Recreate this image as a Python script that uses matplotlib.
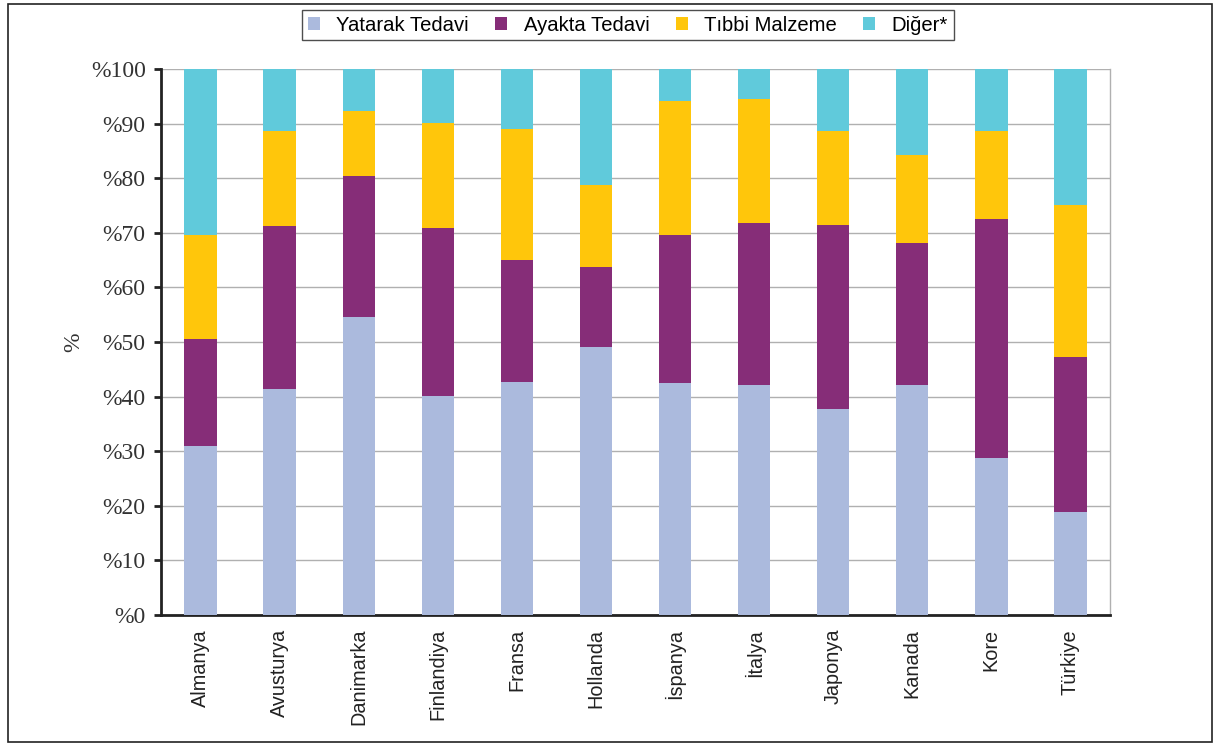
import numpy as np
import matplotlib
matplotlib.use("Agg")
import matplotlib.pyplot as plt
from matplotlib.patches import Rectangle

# Ulkeler ve harcama paylari (%)
ulkeler = ["Almanya", "Avusturya", "Danimarka", "Finlandiya", "Fransa", "Hollanda",
           "İspanya", "İtalya", "Japonya", "Kanada", "Kore", "Türkiye"]
yatarak = [31.0, 41.4, 54.6, 40.1, 42.7, 49.1, 42.5, 42.1, 37.7, 42.1, 28.8, 18.9]
ayakta = [19.5, 29.8, 25.8, 30.8, 22.3, 14.6, 27.1, 29.7, 33.7, 26.0, 43.7, 28.4]
tibbi = [19.1, 17.4, 11.9, 19.2, 24.0, 15.1, 24.5, 22.7, 17.2, 16.1, 16.1, 27.8]
diger = [100 - a - b - c for a, b, c in zip(yatarak, ayakta, tibbi)]

seri_adlari = ["Yatarak Tedavi", "Ayakta Tedavi", "Tıbbi Malzeme", "Diğer*"]
renkler = ["#abbadd", "#862d78", "#ffc60b", "#60cadb"]
yuzde_etiket = ["%" + str(v) for v in range(0, 101, 10)]

fig = plt.figure(figsize=(12.18, 7.44), dpi=100)
ax = fig.add_axes([0.1322, 0.1734, 0.7791, 0.7339])

x = np.arange(len(ulkeler))
alt = np.zeros(len(ulkeler))
for seri, ad, renk in zip([yatarak, ayakta, tibbi, diger], seri_adlari, renkler):
    ax.bar(x, seri, bottom=alt, width=0.41, color=renk, label=ad, zorder=3)
    alt += np.array(seri)

ax.set_xlim(-0.5, len(ulkeler) - 0.5)
ax.set_ylim(0, 100)
ax.set_yticks(range(0, 101, 10))
ax.set_yticklabels(yuzde_etiket, fontfamily="Liberation Serif", fontsize=17, color="#333333")
ax.set_xticks(x)
ax.set_xticklabels(ulkeler, rotation=90, fontfamily="Liberation Sans", fontsize=14.3, color="#222222")
ax.tick_params(axis="x", length=0, pad=10)
ax.tick_params(axis="y", direction="out", length=5, width=2, color="#222222", pad=6)
ax.grid(axis="y", color="#b0b0b0", linewidth=1, zorder=0)
ax.set_ylabel("%", fontfamily="Liberation Serif", fontsize=17, color="#333333", labelpad=5)

for s in ["left", "bottom"]:
    ax.spines[s].set_color("#222222")
    ax.spines[s].set_linewidth(2)
ax.spines["top"].set_visible(False)
ax.spines["right"].set_color("#b0b0b0")
ax.spines["right"].set_linewidth(1)

leg = fig.legend(loc="center", bbox_to_anchor=(0.5156, 0.966), ncol=4, frameon=True,
                 fancybox=False, edgecolor="#222222", handlelength=0.6, handleheight=0.6,
                 columnspacing=1.3, handletextpad=0.8,
                 prop={"family": "Liberation Sans", "size": 14.6}, borderpad=0.28)
leg.get_frame().set_linewidth(1)

# dis cerceve
fig.patches.append(Rectangle((0.0066, 0.0027), 0.9885, 0.992, transform=fig.transFigure,
                             fill=False, edgecolor="#222222", linewidth=1.2))

fig.savefig("out.png", dpi=100)
